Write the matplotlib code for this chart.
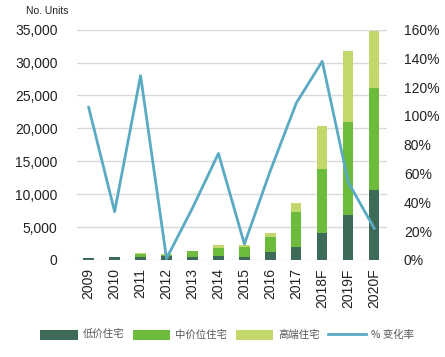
import numpy as np
import matplotlib.pyplot as plt
from matplotlib.ticker import FuncFormatter

# data
years = ['2009', '2010', '2011', '2012', '2013', '2014', '2015', '2016', '2017',
         '2018F', '2019F', '2020F']
low = [250, 400, 400, 600, 400, 600, 500, 1250, 1900, 4150, 6900, 10600]
mid = [0, 0, 500, 200, 900, 1200, 1400, 2250, 5400, 9650, 14050, 15550]
high = [0, 0, 100, 100, 50, 500, 300, 600, 1300, 6550, 10850, 8700]
change = [106, 33.5, 128, 1, 36, 74, 11, 62, 109, 138, 54, 22]

plt.rcParams['font.family'] = ['Liberation Sans', 'DejaVu Sans']
cjk = ['Noto Sans CJK SC', 'DejaVu Sans']

c_low = '#3d6b58'
c_mid = '#6cbb3c'
c_high = '#c3d86c'
c_line = '#5aaac4'

fig = plt.figure(figsize=(4.45, 3.57), dpi=100)
ax = fig.add_axes([0.173, 0.272, 0.697, 0.645])
ax2 = ax.twinx()

x = np.arange(len(years))
w = 0.4
low = np.array(low)
mid = np.array(mid)
high = np.array(high)
ax.bar(x, low, w, color=c_low, label='低价住宅', zorder=2)
ax.bar(x, mid, w, bottom=low, color=c_mid, label='中价位住宅', zorder=2)
ax.bar(x, high, w, bottom=low + mid, color=c_high, label='高端住宅', zorder=2)

ax2.plot(x, change, color=c_line, lw=2, label='% 变化率')

ax.set_ylim(0, 35000)
ax.set_yticks(np.arange(0, 35001, 5000))
ax.yaxis.set_major_formatter(FuncFormatter(lambda v, p: f'{int(v):,}'))
ax2.set_ylim(0, 160)
ax2.set_yticks(np.arange(0, 161, 20))
ax2.yaxis.set_major_formatter(FuncFormatter(lambda v, p: f'{int(v)}%'))
ax.set_xlim(-0.45, 11.5)
ax.set_xticks(x)
ax.set_xticklabels(years, rotation=90)

ax.grid(axis='y', color='#d9d9d9', lw=1, zorder=0)
ax.set_axisbelow(True)
for a in (ax, ax2):
    for s in a.spines.values():
        s.set_visible(False)
    a.tick_params(length=0, labelsize=10, colors='#222222')
ax.tick_params(axis='y', pad=14)
ax.tick_params(axis='x', pad=6)
ax2.tick_params(axis='y', pad=12)

fig.text(0.058, 0.968, 'No. Units', fontsize=7.5, color='#222222', va='center')

h1, l1 = ax.get_legend_handles_labels()
h2, l2 = ax2.get_legend_handles_labels()
leg = fig.legend(h1 + h2, l1 + l2, loc='center', bbox_to_anchor=(0.51, 0.062), ncol=4,
                 frameon=False, prop={'family': cjk, 'size': 7.5}, handlelength=3.6,
                 handleheight=1.1, handletextpad=0.5, columnspacing=0.8)
for t in leg.get_texts():
    t.set_color('#555555')

fig.savefig('out.png', dpi=100)
